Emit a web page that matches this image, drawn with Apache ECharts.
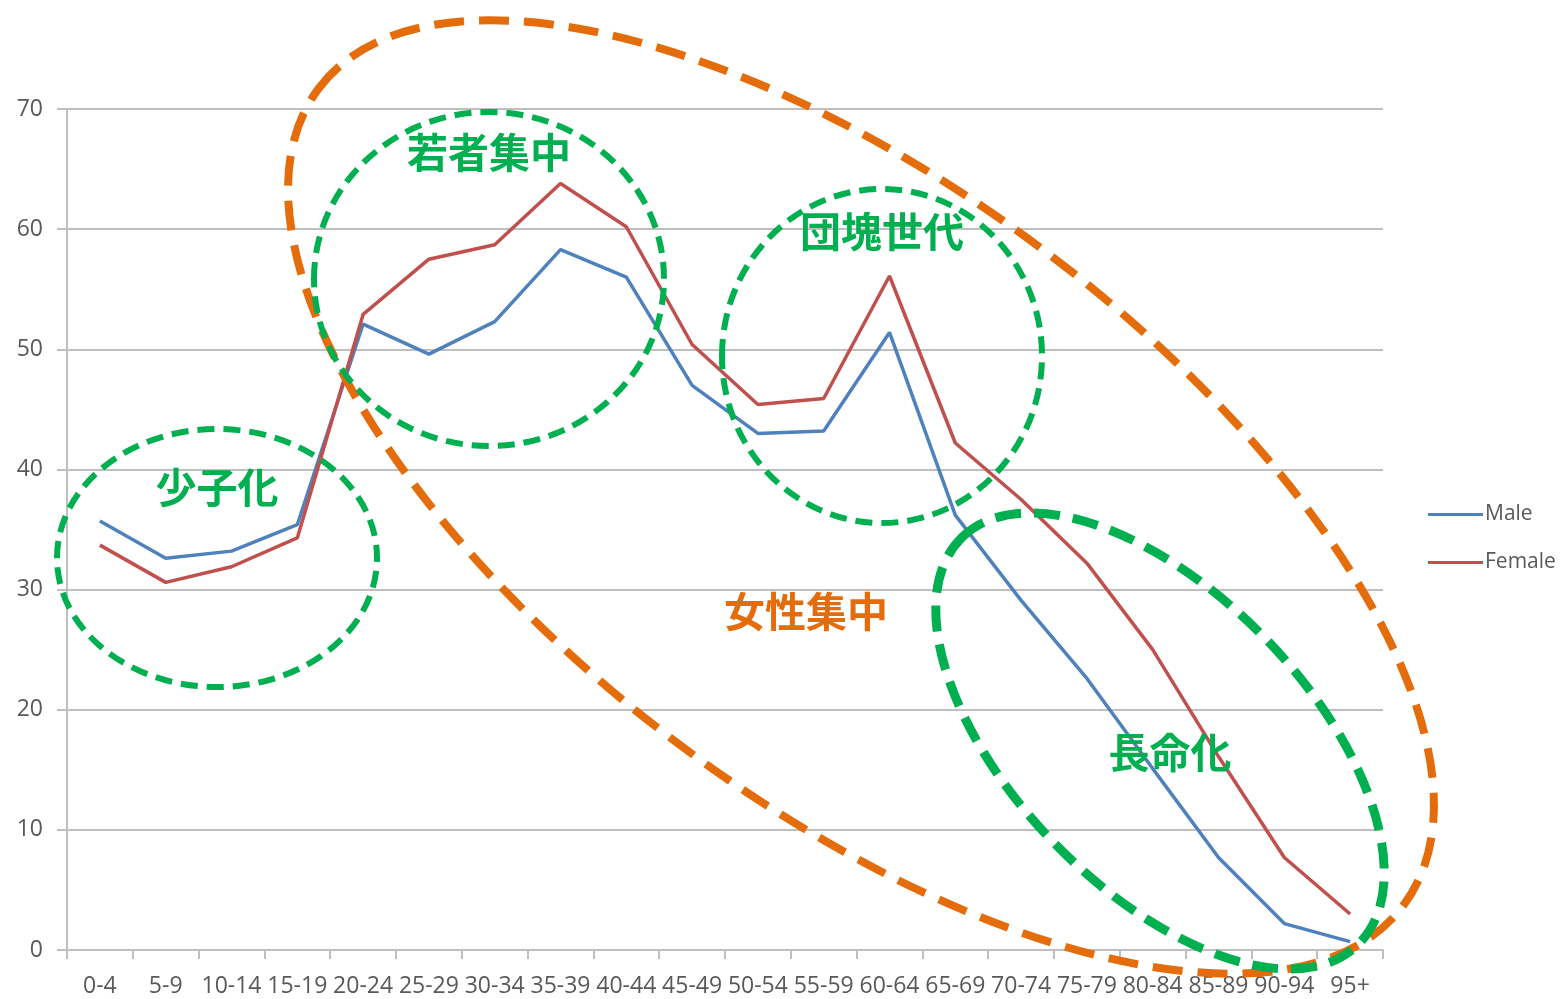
<!DOCTYPE html>
<html><head><meta charset="utf-8">
<script src="https://cdn.jsdelivr.net/npm/echarts@6/dist/echarts.min.js"></script>
<style>html,body{margin:0;padding:0;background:#fff}#c{width:1562px;height:999px}</style>
</head><body><div id="c"></div>
<script>
const categories = ['0-4','5-9','10-14','15-19','20-24','25-29','30-34','35-39','40-44','45-49','50-54','55-59','60-64','65-69','70-74','75-79','80-84','85-89','90-94','95+'];
const maleValues = [35.7,32.6,33.2,35.4,52.1,49.6,52.3,58.3,56.0,47.0,43.0,43.2,51.4,36.2,29.1,22.6,15.1,7.7,2.2,0.7];
const femaleValues = [33.7,30.6,31.9,34.3,52.9,57.5,58.7,63.8,60.2,50.4,45.4,45.9,56.1,42.2,37.5,32.2,25.0,16.1,7.7,3.0];
const yTicks = [0,10,20,30,40,50,60,70];
const seriesNames = ['Male','Female'];

const GREEN = '#00B050', ORANGE = '#E46C0A';
const cjk = 'bold 41px "Noto Sans CJK JP", sans-serif';
function ell(cx, cy, rx, ry, rot, color, w, dash, z) {
  return { type: 'ellipse', x: cx, y: cy, rotation: rot, z: z || 100,
    shape: { cx: 0, cy: 0, rx: rx, ry: ry },
    style: { fill: null, stroke: color, lineWidth: w, lineDash: dash } };
}
function txt(x, y, t, color) {
  return { type: 'text', x: x, y: y, z: 110,
    style: { text: t, fill: color, font: cjk, textAlign: 'center', textVerticalAlign: 'middle' } };
}

const chart = echarts.init(document.getElementById('c'), null, { renderer: 'canvas' });
chart.setOption({
  animation: false,
  backgroundColor: '#fff',
  grid: { left: 67, right: 179, top: 109, bottom: 49, containLabel: false },
  legend: {
    orient: 'vertical', left: 1423, top: 499, itemWidth: 55, itemHeight: 3, itemGap: 27,
    icon: 'rect',
    textStyle: { color: '#595959', fontSize: 21, fontFamily: 'Open Sans', padding: [0,0,0,-3] },
    data: seriesNames
  },
  xAxis: {
    type: 'category', data: categories, boundaryGap: true,
    axisLine: { lineStyle: { color: '#BFBFBF', width: 2 } },
    axisTick: { show: true, length: 9, lineStyle: { color: '#BFBFBF', width: 2 } },
    axisLabel: { interval: 0, color: '#595959', fontSize: 23, fontFamily: 'Open Sans', margin: 25 },
    splitLine: { show: false }
  },
  yAxis: {
    type: 'value', min: yTicks[0], max: yTicks[yTicks.length-1], interval: 10,
    axisLine: { show: true, lineStyle: { color: '#BFBFBF', width: 2 } },
    axisTick: { show: true, length: 10, lineStyle: { color: '#BFBFBF', width: 2 } },
    axisLabel: { color: '#595959', fontSize: 23, fontFamily: 'Open Sans', margin: 24 },
    splitLine: { show: true, lineStyle: { color: '#BFBFBF', width: 2 } }
  },
  series: [
    { name: seriesNames[0], type: 'line', data: maleValues, symbol: 'none',
      lineStyle: { color: '#4F81BD', width: 3.5 }, itemStyle: { color: '#4F81BD' } },
    { name: seriesNames[1], type: 'line', data: femaleValues, symbol: 'none',
      lineStyle: { color: '#C0504D', width: 3.5 }, itemStyle: { color: '#C0504D' } }
  ],
  graphic: [
    ell(861, 497, 679, 307, -0.646, ORANGE, 8, [30, 15]),
    ell(217, 558, 160, 129, 0, GREEN, 6, [17, 9]),
    ell(489, 279, 175, 167, 0, GREEN, 6, [17, 9]),
    ell(882, 356, 160, 167, 0, GREEN, 6, [17, 9]),
    ell(1160, 741, 284, 147, -0.80, GREEN, 9, [26, 13]),
    txt(217, 487, '少子化', GREEN),
    txt(489, 152, '若者集中', GREEN),
    txt(882, 231, '団塊世代', GREEN),
    txt(1170, 752, '長命化', GREEN),
    txt(806, 611, '女性集中', ORANGE)
  ]
});
</script></body></html>
